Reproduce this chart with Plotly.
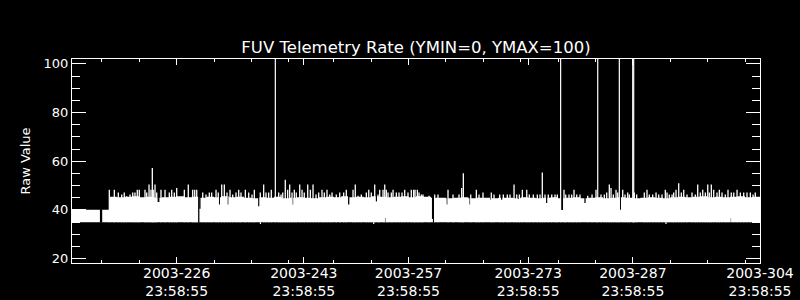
import plotly.graph_objects as go
from datetime import datetime, timedelta

# ---------------- data (day-of-year, label convention "2003-DDD 23:58:55") ----------------
T0_DAY = 212
T0 = datetime(2003, 7, 31, 23, 58, 55)

x_range_days = [212.0, 304.0]
y_range = [18.2, 102.0]

label_days = [226, 243, 257, 273, 287, 304]
minor_days = [216, 221, 231, 236, 241, 247, 252, 262, 267, 272, 277, 282, 292, 297, 302]
y_ticks = [20, 40, 60, 80, 100]

band_bottom = 34.9
# solid band: start day of each step and its top value
band_start = [212.0, 217.05] + [float(d) for d in range(218, 304)]
band_top = [40.1, 45.4,
            45.2, 45.4, 45.6, 45.2, 45.4, 45.0,
            45.2, 45.4, 45.6, 45.2, 45.4, 45.0, 45.4, 45.2, 45.6, 45.2, 45.4,
            45.0, 44.8, 45.2, 45.0, 45.4, 44.8, 45.0, 45.2, 45.0, 44.8, 45.2,
            45.4, 45.2, 45.6, 45.2, 45.4, 45.2, 45.6, 45.4, 45.2, 45.4, 45.6, 45.2,
            45.6, 45.4, 45.0, 45.0, 44.8, 45.0, 45.2, 44.8, 45.0, 45.0, 44.8, 45.0,
            45.0, 44.8, 45.2, 45.0, 44.8, 45.0, 45.2, 44.8, 45.0, 45.2, 44.8,
            45.0, 45.2, 44.8, 45.0, 45.2, 45.0, 44.8, 45.0, 45.2, 45.0, 44.8, 45.2,
            45.4, 45.2, 45.4, 45.6, 45.2, 45.4, 45.2, 45.4, 45.6, 45.2, 45.4]
band_end = 304.0

# thin upward spikes above the band
spike_days = [216.99, 217.66, 218.19, 218.65, 218.99, 219.31, 219.76, 220.12, 220.42, 220.73,
              221.00, 221.76, 221.99, 222.30, 222.56, 222.74, 222.87, 223.10, 223.33,
              223.90, 224.44, 225.01, 225.33, 225.68, 226.00, 227.02, 227.55, 228.14, 228.41,
              228.68, 229.48, 229.92, 230.36, 230.68, 231.26, 231.56, 232.02, 232.37, 232.73,
              233.13, 233.49, 233.93, 234.29, 234.60,
              235.18, 235.63, 236.07, 236.38, 237.18, 237.63, 237.94, 238.30, 238.65, 239.64,
              239.95, 240.18, 240.52, 240.84, 241.11, 241.42, 241.73, 241.99, 242.45, 242.76,
              243.06, 243.52, 243.87, 244.23, 244.63, 244.99, 245.43, 245.74, 246.10,
              246.46, 246.77, 247.34, 247.80, 248.33, 248.68, 249.58, 249.88, 250.25, 250.69,
              251.36, 251.68, 252.02, 252.48, 252.92, 253.15, 253.59, 253.82, 254.03, 254.26,
              254.70, 254.93, 255.37, 255.73, 256.13, 256.49, 256.93, 257.37, 257.69,
              257.87, 258.18, 258.40, 258.71, 258.94, 259.74, 260.50, 260.94, 262.28, 262.95,
              263.75, 264.11, 264.33, 265.32, 266.07, 266.43, 266.96, 268.07, 268.43, 269.19,
              269.68, 270.21, 270.57, 271.11, 271.47, 271.82, 272.22, 272.81, 273.15, 273.69,
              274.22, 274.58, 274.89, 275.25, 275.69, 276.15, 276.59, 276.90, 277.79, 278.02,
              278.46, 278.82, 279.13, 279.49, 279.93,
              280.96, 281.54, 282.07, 282.74, 283.18, 283.50, 283.85, 284.08, 284.39, 284.75,
              284.97, 285.64, 285.95, 286.31, 286.53, 287.19, 287.51, 288.53, 288.89, 289.20,
              289.65, 290.10, 290.46, 290.90, 291.34, 291.57, 291.87, 292.24,
              292.46, 292.77, 293.13, 293.48, 293.80, 294.24, 294.91, 295.35, 295.67, 296.02,
              296.34, 296.69, 297.01, 297.22, 297.49, 297.81, 298.25, 298.56, 298.92, 299.36,
              299.72, 300.16, 300.49, 300.93, 301.37, 301.82, 302.26, 302.71, 303.07, 303.37]
spike_vals = [48.3, 48.3, 47.2, 46.3, 47.2, 45.6, 46.3, 47.2, 47.2, 48.3,
              48.3, 48.3, 47.2, 50.4, 48.3, 57.2, 48.3, 50.4, 47.2,
              48.3, 48.3, 47.2, 48.3, 47.2, 49.0, 48.3, 50.4, 48.3, 48.3,
              48.3, 47.2, 46.3, 47.2, 47.2, 48.3, 47.2, 50.4, 50.4, 47.2,
              48.3, 46.3, 47.2, 48.3, 47.2,
              48.3, 47.2, 46.3, 48.3, 47.2, 50.4, 47.2, 47.2, 48.3, 47.2,
              46.3, 47.2, 52.4, 48.3, 50.4, 47.2, 48.3, 47.2, 50.4, 48.3,
              47.2, 50.4, 48.3, 50.4, 46.3, 47.2, 48.3, 47.2, 48.3,
              46.3, 47.2, 46.3, 47.2, 47.2, 48.3, 48.3, 50.4, 45.8, 46.3,
              47.2, 48.3, 47.2, 50.4, 46.3, 48.3, 48.3, 50.4, 48.3, 47.2,
              47.2, 48.3, 47.2, 47.2, 47.2, 48.3, 47.2, 48.3, 48.3,
              48.3, 48.3, 47.2, 46.3, 46.3, 45.8, 46.3, 46.3, 48.3, 46.3,
              46.3, 49.0, 55.1, 46.3, 48.3, 46.3, 47.2, 47.2, 46.3, 46.3,
              46.3, 46.3, 46.3, 50.4, 46.3, 46.3, 48.3, 48.3, 46.3, 46.3,
              46.3, 46.3, 55.4, 46.3, 46.3, 46.3, 46.3, 46.3, 48.3, 46.3,
              46.3, 46.3, 48.3, 46.3, 46.3,
              45.8, 46.3, 48.3, 46.3, 46.3, 47.2, 50.4, 49.0, 46.3, 48.3,
              47.2, 48.3, 46.3, 47.2, 46.3, 47.2, 46.3, 47.2, 48.3, 46.3,
              46.3, 47.2, 46.3, 46.3, 48.3, 47.2, 46.3, 46.3,
              47.2, 48.3, 51.0, 47.2, 48.3, 46.3, 47.2, 46.3, 50.4, 47.2,
              48.3, 47.2, 50.4, 47.2, 50.4, 48.3, 47.2, 48.3, 47.2, 46.3,
              48.3, 47.2, 47.2, 48.3, 47.2, 47.2, 47.2, 47.2, 46.3, 47.2]

# off-scale readings (clipped at top of plot)
big_spike_days = [239.19, 277.34, 282.30, 285.19, 286.98, 287.11]
big_spike_vals = [120.0, 120.0, 120.0, 120.0, 120.0, 120.0]

# short data gaps inside the band (day, low, high)
gap_days = [215.82, 215.95, 223.50, 223.60, 228.95, 229.10, 231.70, 232.82, 236.98, 241.50,
            249.00, 252.70, 253.90, 260.22, 260.35, 262.19, 265.24, 268.00, 269.46, 271.69,
            275.48, 277.45, 277.58, 280.60, 285.32, 300.16]
gap_lo = [34.8, 34.8, 43.3, 43.3, 34.8, 40.5, 42.2, 42.2, 41.5, 42.2,
          42.2, 43.5, 34.8, 36.3, 34.8, 42.2, 42.2, 44.2, 44.2, 44.5,
          42.8, 40.0, 40.0, 42.8, 40.1, 34.8]
gap_hi = [40.3, 40.3, 45.8, 45.8, 45.8, 45.8, 45.8, 45.8, 45.8, 45.8,
          45.8, 45.8, 36.7, 46.0, 46.0, 45.8, 45.8, 45.8, 45.8, 45.8,
          45.8, 45.8, 45.8, 45.8, 45.8, 36.7]

# brief low readings just below the band
dip_days = [237.20, 252.34, 291.43]
dip_vals = [34.2, 34.2, 34.2]

# ---------------- helpers ----------------
def to_time(d):
    return T0 + timedelta(days=d - T0_DAY)

def segments(days, lows, highs):
    xs, ys = [], []
    for d, lo, hi in zip(days, lows, highs):
        t = to_time(d)
        xs += [t, t, None]
        ys += [lo, hi, None]
    return xs, ys

FONT = "DejaVu Sans"
WHITE = "white"

fig = go.Figure()

# band bottom (invisible) + filled top
bx = [to_time(d) for d in band_start] + [to_time(band_end)]
fig.add_trace(go.Scatter(x=bx, y=[band_bottom] * len(bx), mode="lines",
                         line=dict(width=0, color=WHITE, shape="hv"),
                         hoverinfo="skip", showlegend=False))
fig.add_trace(go.Scatter(x=bx, y=band_top + [band_top[-1]], mode="lines",
                         line=dict(width=0, color=WHITE, shape="hv"),
                         fill="tonexty", fillcolor=WHITE,
                         hoverinfo="skip", showlegend=False))

# gaps (black)
gx, gy = segments(gap_days, gap_lo, gap_hi)
fig.add_trace(go.Scatter(x=gx, y=gy, mode="lines", line=dict(width=1.3, color="black"),
                         hoverinfo="skip", showlegend=False))

# dips below band
dx, dy = segments(dip_days, [band_bottom] * len(dip_days), dip_vals)
fig.add_trace(go.Scatter(x=dx, y=dy, mode="lines", line=dict(width=1.2, color=WHITE),
                         hoverinfo="skip", showlegend=False))

# spikes
sx, sy = segments(spike_days, [band_bottom] * len(spike_days), spike_vals)
fig.add_trace(go.Scatter(x=sx, y=sy, mode="lines", line=dict(width=1.3, color=WHITE),
                         hoverinfo="skip", showlegend=False))

bx2, by2 = segments(big_spike_days, [band_bottom] * len(big_spike_days), big_spike_vals)
fig.add_trace(go.Scatter(x=bx2, y=by2, mode="lines", line=dict(width=1.2, color=WHITE),
                         hoverinfo="skip", showlegend=False))

fig.update_layout(
    width=800, height=300,
    margin=dict(l=72, r=40, t=59, b=37),
    paper_bgcolor="black", plot_bgcolor="black",
    font=dict(family=FONT, color=WHITE, size=13),
    title=dict(text="FUV Telemetry Rate (YMIN=0, YMAX=100)",
               font=dict(family=FONT, size=16.5, color=WHITE),
               x=0.5, xref="paper", xanchor="center",
               y=1 - 47 / 300, yref="container", yanchor="middle"),
    showlegend=False,
)

fig.update_xaxes(
    type="date",
    range=[to_time(x_range_days[0]), to_time(x_range_days[1])],
    tickmode="array",
    tickvals=[to_time(d) for d in label_days],
    ticktext=[f"2003-{d}<br>23:58:55" for d in label_days],
    ticks="inside", ticklen=6, tickwidth=1, tickcolor=WHITE,
    minor=dict(tickmode="array", tickvals=[to_time(d) for d in minor_days],
               ticks="inside", ticklen=3, tickwidth=1, tickcolor=WHITE, showgrid=False),
    showline=True, linecolor=WHITE, linewidth=1, mirror="allticks",
    showgrid=False, zeroline=False, automargin=False,
    tickfont=dict(family=FONT, size=14, color=WHITE),
    ticklabelstandoff=-3,
)

fig.update_yaxes(
    range=y_range,
    tickmode="array", tickvals=y_ticks,
    ticks="inside", ticklen=14, tickwidth=1, tickcolor=WHITE,
    minor=dict(tick0=0, dtick=5, ticks="inside", ticklen=8, tickwidth=1,
               tickcolor=WHITE, showgrid=False),
    showline=True, linecolor=WHITE, linewidth=1, mirror="allticks",
    showgrid=False, zeroline=False, automargin=False,
    tickfont=dict(family=FONT, size=13, color=WHITE),
    title=dict(text="Raw Value", font=dict(family=FONT, size=13, color=WHITE), standoff=10),
)

fig.write_html("out.html")
